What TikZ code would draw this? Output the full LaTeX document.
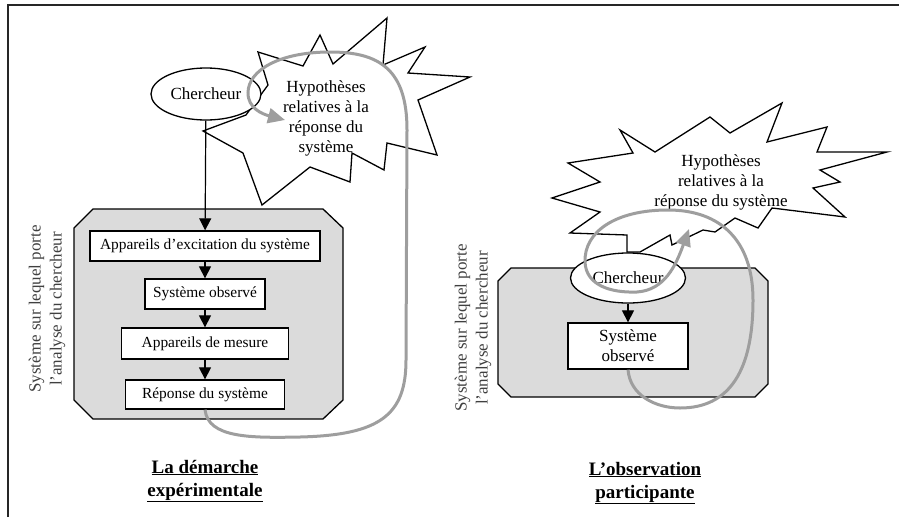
\documentclass[tikz,border=0pt]{standalone}
\usepackage{fontspec}
\setmainfont{Liberation Serif}
\usetikzlibrary{arrows.meta,shapes.geometric}

\tikzset{
  panel/.style={draw, fill=black!14, line width=1.3pt},
  burst/.style={draw, fill=white, line width=1.3pt},
  actor/.style={ellipse, draw, fill=white, line width=1.3pt, inner sep=0pt,
    font=\fontsize{17}{20}\selectfont},
  stage/.style={draw, fill=white, line width=1.3pt, inner sep=0pt, align=center,
    font=\fontsize{15.4}{19}\selectfont},
  flow/.style={-{Triangle[length=12pt,width=12pt]}, line width=1.2pt},
  feedback/.style={draw=black!38, line width=3pt,
    -{Triangle[length=17pt,width=15pt]}},
  idea/.style={align=center, font=\fontsize{17}{20}\selectfont},
  side/.style={rotate=90, align=center, text=black!75,
    font=\fontsize{17}{21}\selectfont},
  title/.style={align=center, font=\bfseries\fontsize{19}{23}\selectfont},
}

\begin{document}
\begin{tikzpicture}[x=1pt,y=-1pt]
    \useasboundingbox (0,0) rectangle (899,517);
    \draw[line width=1.5pt, black!85] (8,517) -- (8,5) -- (899,5);

    % la demarche experimentale
    \draw[panel] (74,228) -- (93,209) -- (323,209) -- (343,228) -- (343,400)
      -- (323,419) -- (93,419) -- (74,400) -- cycle;
    \draw[burst] (258,52) -- (303,66) -- (320,35) -- (333,64) -- (387,18)
      -- (383,65) -- (425,47) -- (408,73) -- (470,77) -- (418,100)
      -- (437,155) -- (387,143) -- (384,170) -- (352,153) -- (350,182)
      -- (310,167) -- (262,205) -- (243,153) -- (203,131) -- (246,115)
      -- (268,85) -- cycle;

    \node[actor, minimum width=110pt, minimum height=52pt] (cherA) at (206,94) {Chercheur};
    \node[idea] (hypA) at (326,118) {Hypothèses\\relatives à la\\réponse du\\système};

    \node[stage, minimum width=230pt, minimum height=30pt] (excit) at (205,246) {Appareils d'excitation du système};
    \node[stage, minimum width=120pt, minimum height=30pt] (obsA) at (205,294) {Système observé};
    \node[stage, minimum width=167pt, minimum height=31pt] (mesure) at (205,343.5) {Appareils de mesure};
    \node[stage, minimum width=159pt, minimum height=29pt] (repA) at (205,394.5) {Réponse du système};

    \draw[flow] (cherA) -- (excit);
    \draw[flow] (excit) -- (obsA);
    \draw[flow] (obsA) -- (mesure);
    \draw[flow] (mesure) -- (repA);

    \coordinate (tipA) at (285,120);
    \draw[feedback] (repA.south) .. controls (208,438) and (250,438) .. (300,437)
      .. controls (380,435) and (406,415) .. (406,360) -- (407,130)
      .. controls (407,70) and (380,52) .. (330,52)
      .. controls (280,52) and (248,70) .. (248,93)
      .. controls (248,108) and (262,114) .. (tipA);

    \node[side] (sideA) at (47,309) {Système sur lequel porte\\l'analyse du chercheur};
    \node[title] (titleA) at (205,481) {\underline{La démarche}\\\underline{expérimentale}};

    % l'observation participante
    \draw[panel] (498,281) -- (511,268) -- (755,268) -- (768,281) -- (768,384)
      -- (755,397) -- (511,397) -- (498,384) -- cycle;
    \draw[burst] (620,130) -- (655,152) -- (710,117) -- (730,133) -- (782,103)
      -- (767,142) -- (827,127) -- (817,152) -- (887,152) -- (820,170)
      -- (840,182) -- (813,188) -- (845,217) -- (772,208) -- (758,228)
      -- (735,218) -- (715,232) -- (703,230) -- (672,245) -- (670,235)
      -- (640,252) -- (627,252) -- (627,235) -- (570,233) -- (600,212)
      -- (552,198) -- (600,182) -- (568,163) -- (633,153) -- cycle;

    \node[actor, minimum width=115pt, minimum height=50pt] (cherB) at (628,278) {Chercheur};
    \node[idea] (hypB) at (721,182) {Hypothèses\\relatives à la\\réponse du système};
    \node[stage, minimum width=120pt, minimum height=46pt, font=\fontsize{17}{20}\selectfont] (obsB) at (628,346) {Système\\observé};

    \draw[flow] (cherB) -- (obsB);

    \coordinate (tipB) at (689,229);
    \draw[feedback] (obsB.south) .. controls (630,395) and (655,408) .. (680,408)
      .. controls (730,408) and (753,370) .. (753,300)
      .. controls (753,240) and (720,210) .. (668,210)
      .. controls (615,210) and (584,232) .. (585,262)
      .. controls (586,285) and (610,293) .. (637,292)
      .. controls (665,290) and (676,265) .. (tipB);

    \node[side] (sideB) at (473,328) {Système sur lequel porte\\l'analyse du chercheur};
    \node[title] (titleB) at (645,483) {\underline{L'observation}\\\underline{participante}};
\end{tikzpicture}
\end{document}
